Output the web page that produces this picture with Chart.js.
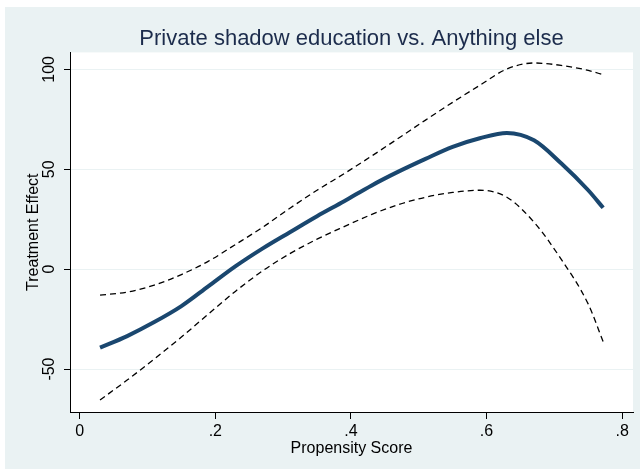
<!DOCTYPE html>
<html>
<head>
<meta charset="utf-8">
<script src="https://cdn.jsdelivr.net/npm/chart.js@4/dist/chart.umd.min.js"></script>
<style>
  html, body { margin: 0; padding: 0; background: #ffffff; }
  canvas { display: block; }
</style>
</head>
<body>
<canvas id="grafico" width="640" height="469"></canvas>
<script>
// Dados
const propensityScore = [0.03, 0.07, 0.11, 0.15, 0.19, 0.23, 0.27, 0.31, 0.35, 0.39, 0.43, 0.47, 0.51, 0.55, 0.59, 0.63, 0.67, 0.71, 0.75, 0.772];
const treatmentEffect = [-39.3, -33.5, -26.5, -18.5, -8.5, 1.5, 10.4, 18.5, 26.5, 34, 41.8, 48.8, 55.2, 61.2, 65.5, 68.2, 64.5, 53, 39.5, 30.7];
const upperBound = [-13, -11.5, -8, -2.7, 4, 12.4, 21, 30.5, 39.5, 47.8, 56.5, 65.5, 74.6, 83.5, 92, 100.2, 103.2, 102, 99.5, 97.3];
const lowerBound = [-65.5, -55.5, -45, -34, -22.4, -11, -0.8, 7.8, 15, 21.3, 27.3, 32.3, 36, 38.4, 39.5, 36, 23.5, 5, -17.5, -36.3];
const xTicks = [0, 0.2, 0.4, 0.6, 0.8];
const yTicks = [-50, 0, 50, 100];

const fonte = "Arial, 'Liberation Sans', sans-serif";

// Junta x e y em pontos
function pontos(valores) {
    return propensityScore.map((x, i) => ({ x: x, y: valores[i] }));
}

// Fundo estilo Stata
const fundo = {
    id: 'fundo',
    beforeDraw(chart) {
        const { ctx, width, height, chartArea } = chart;
        ctx.save();
        ctx.fillStyle = '#ffffff';
        ctx.fillRect(0, 0, width, height);
        ctx.fillStyle = '#EAF2F3';
        ctx.fillRect(5, 7, width - 5, height - 7);
        ctx.fillStyle = '#ffffff';
        ctx.fillRect(chartArea.left, chartArea.top, chartArea.right - chartArea.left, chartArea.bottom - chartArea.top);
        ctx.restore();
    }
};

const tracejada = {
    borderColor: '#000000',
    borderWidth: 1.3,
    borderDash: [6, 4],
    pointRadius: 0,
    fill: false,
    cubicInterpolationMode: 'monotone'
};

new Chart(document.getElementById('grafico').getContext('2d'), {
    type: 'line',
    data: {
        datasets: [
            Object.assign({ label: 'Upper', data: pontos(upperBound) }, tracejada),
            Object.assign({ label: 'Lower', data: pontos(lowerBound) }, tracejada),
            {
                label: 'Treatment Effect',
                data: pontos(treatmentEffect),
                borderColor: '#1A476F',
                borderWidth: 4,
                pointRadius: 0,
                fill: false,
                cubicInterpolationMode: 'monotone'
            }
        ]
    },
    options: {
        responsive: false,
        animation: false,
        layout: { padding: { left: 0, right: 7, top: 16, bottom: 0 } },
        plugins: {
            legend: { display: false },
            tooltip: { enabled: false },
            title: {
                display: true,
                text: 'Private shadow education vs. Anything else',
                fullSize: false,
                color: '#1c2c4c',
                font: { family: fonte, size: 22, weight: 'normal' },
                padding: { top: 10, bottom: 0 }
            }
        },
        scales: {
            x: {
                type: 'linear',
                min: -0.0143,
                max: 0.816,
                afterBuildTicks: s => { s.ticks = xTicks.map(v => ({ value: v })); },
                afterFit: s => { s.height = 57; },
                ticks: {
                    color: '#000000',
                    font: { family: fonte, size: 16 },
                    padding: 3,
                    maxRotation: 0,
                    callback: v => v === 0 ? '0' : Number(v).toFixed(1).replace(/^0/, '')
                },
                grid: { drawOnChartArea: false, tickLength: 7, tickColor: '#000000' },
                border: { color: '#000000', width: 1 },
                title: {
                    display: true,
                    text: 'Propensity Score',
                    color: '#000000',
                    font: { family: fonte, size: 16 },
                    padding: { top: 0, bottom: 11 }
                }
            },
            y: {
                type: 'linear',
                min: -71.5,
                max: 108.5,
                afterBuildTicks: s => { s.ticks = yTicks.map(v => ({ value: v })); },
                afterFit: s => { s.width = 70; },
                ticks: {
                    color: '#000000',
                    font: { family: fonte, size: 16 },
                    padding: 1,
                    minRotation: 90,
                    maxRotation: 90,
                    crossAlign: 'center',
                    callback: v => String(v)
                },
                grid: { color: '#EAF2F3', lineWidth: 1, tickLength: 6, tickColor: '#000000' },
                border: { color: '#000000', width: 1 },
                title: {
                    display: true,
                    text: 'Treatment Effect',
                    color: '#000000',
                    font: { family: fonte, size: 16 },
                    padding: { top: 24, bottom: 0 }
                }
            }
        }
    },
    plugins: [fundo]
});
</script>
</body>
</html>
